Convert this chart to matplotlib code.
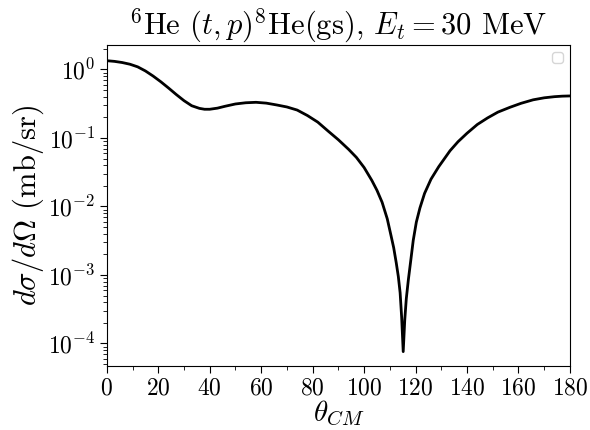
import numpy as np
import matplotlib
matplotlib.use('Agg')
import matplotlib.pyplot as plt

# angles (deg) and cross section (mb/sr)
theta = [0, 3, 6, 9, 12, 15, 18, 21, 24, 27, 30, 33, 36, 38, 40, 43, 46, 50, 54, 58,
	62, 66, 70, 74, 78, 82, 86, 90, 94, 97, 100, 103, 105, 107, 109, 110.5, 111.5,
	112.5, 113.3, 114, 114.6, 115.2, 115.8, 116.4, 117.2, 118.2, 119.1, 120.3, 121.7,
	123.5, 126, 129, 133.4, 136.5, 140, 144, 148, 152, 156.7, 161, 165.7, 170, 174,
	177, 180]
xsec = [1.34, 1.31, 1.26, 1.19, 1.09, 0.95, 0.80, 0.66, 0.535, 0.43, 0.35, 0.295, 0.27,
	0.262, 0.262, 0.272, 0.29, 0.313, 0.326, 0.331, 0.322, 0.303, 0.283, 0.255, 0.212,
	0.17, 0.126, 0.094, 0.068, 0.052, 0.037, 0.024, 0.0172, 0.0115, 0.0066, 0.0037,
	0.0025, 0.0015, 0.00095, 0.00055, 0.00024, 0.000076, 0.00022, 0.00045, 0.00085,
	0.0017, 0.0032, 0.0059, 0.0095, 0.0155, 0.025, 0.038, 0.065, 0.088, 0.117, 0.157,
	0.196, 0.238, 0.28, 0.32, 0.36, 0.385, 0.40, 0.407, 0.41]

plt.rcParams['font.family'] = 'serif'
plt.rcParams['font.serif'] = ['cmr10']
plt.rcParams['mathtext.fontset'] = 'cm'
plt.rcParams['axes.formatter.use_mathtext'] = True

fig = plt.figure(figsize=(5.9, 4.3), dpi=100)
ax = fig.add_axes([0.181, 0.149, 0.785, 0.746])

ax.plot(theta, xsec, color='black', lw=2)
ax.set_yscale('log')
ax.set_xlim(0, 180)
ax.set_ylim(4.7e-5, 2.26)
ax.set_xticks(np.arange(0, 181, 20))
ax.set_xticks(np.arange(0, 181, 10), minor=True)
ax.tick_params(which='major', length=5, labelsize=17)
ax.tick_params(which='minor', length=3)

ax.set_xlabel(r'$\theta_{CM}$', fontsize=21, labelpad=-1)
ax.set_ylabel(r'$d\sigma/d\Omega$ (mb/sr)', fontsize=22, labelpad=1)
ax.set_title(r'$^6$He $(t,p)^8$He(gs), $E_t = 30$ MeV', fontsize=22)
ax.legend(handles=[], loc='upper right')

fig.savefig('out.png')
